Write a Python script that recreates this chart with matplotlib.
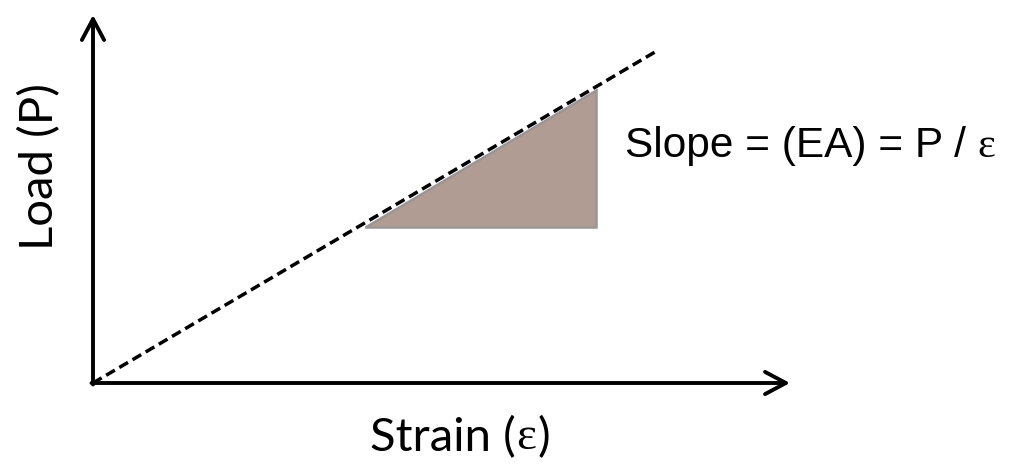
import matplotlib
matplotlib.use("Agg")
import matplotlib.pyplot as plt
from matplotlib.patches import Polygon

# load-strain line (strain, load) in plot units
line_strain = [0.0, 5.62]
line_load = [0.0, 3.31]

# slope triangle vertices
tri_strain = [2.72, 5.03, 5.03]
tri_load = [1.56, 1.56, 2.93]

# axis extents
x_axis_end = 6.97
y_axis_end = 3.68

fig = plt.figure(figsize=(10.17, 4.67), dpi=100)
ax = fig.add_axes([0, 0, 1, 1])
ax.set_xlim(-0.93, 9.24)
ax.set_ylim(-0.84, 3.83)
ax.axis("off")

head = dict(arrowstyle="->,head_length=0.75,head_width=0.4", lw=2.8,
            color="black", shrinkA=0, shrinkB=0, mutation_scale=20)
ax.annotate("", xy=(x_axis_end, 0), xytext=(-0.015, 0), arrowprops=head)
ax.annotate("", xy=(0, y_axis_end), xytext=(0, -0.015), arrowprops=head)

tri = Polygon(list(zip(tri_strain, tri_load)), closed=True,
              facecolor="#b09c92", edgecolor="#9a9596", lw=1.8, zorder=2)
ax.add_patch(tri)

ax.plot(line_strain, line_load, color="black", lw=2.5, ls=(0, (2.9, 1.5)),
        zorder=3, solid_capstyle="butt")

label_font = ["Lato", "DejaVu Sans"]
fs = 34
ax.text(-0.53, 2.16, "Load (P)", rotation=90, ha="center", va="center",
        fontsize=fs, family=label_font)
ax.text(4.23, -0.55, "Strain (", ha="right", va="center",
        fontsize=fs, family=label_font)
ax.text(4.23, -0.55, "\u03b5", ha="left", va="center", fontsize=fs,
        family="Liberation Serif")
ax.text(4.44, -0.55, ")", ha="left", va="center", fontsize=fs, family=label_font)

s = ax.text(5.32, 2.37, "Slope = (EA) = P / ", ha="left", va="center",
            fontsize=30.5, family="Liberation Sans")
ax.annotate("\u03b5", xy=(1, 0), xycoords=s, va="bottom", ha="left",
            fontsize=30.5, family="Liberation Serif")

fig.savefig("out.png", dpi=100, facecolor="white")
